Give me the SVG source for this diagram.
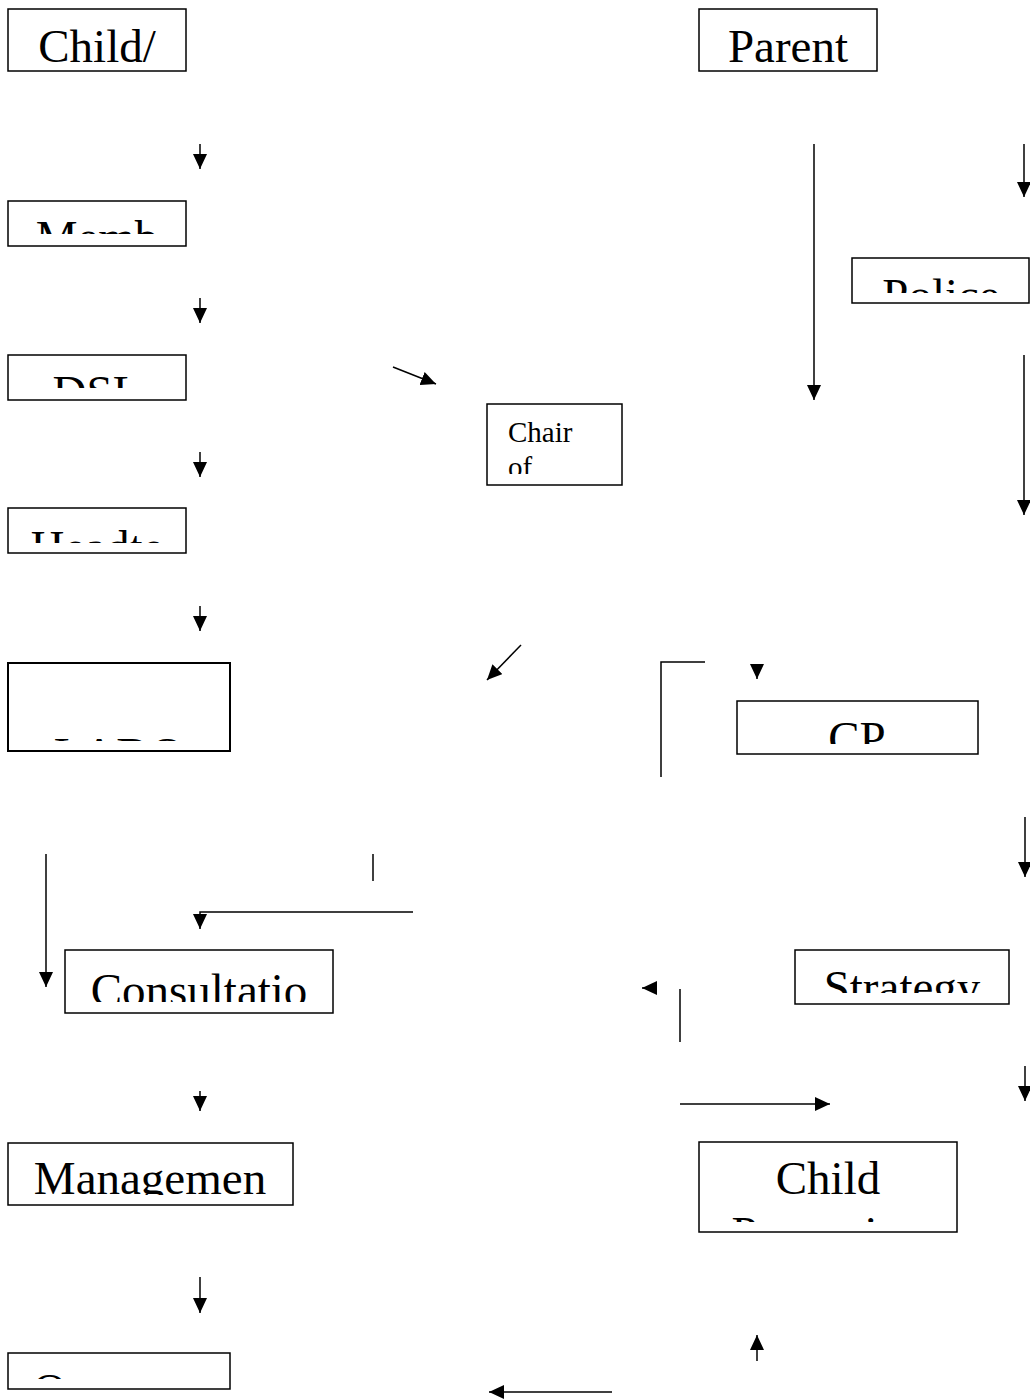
<svg xmlns="http://www.w3.org/2000/svg" width="1030" height="1400" viewBox="0 0 1030 1400">
<style>
.box{fill:#fff;stroke:#000;stroke-width:1.5}
.t{font-family:"Liberation Serif","Times New Roman",serif;font-size:47px;fill:#000;text-anchor:middle}
.ts{font-family:"Liberation Serif","Times New Roman",serif;font-size:29px;fill:#000}
.c{fill:none;stroke:#000;stroke-width:1.5}
.a{marker-end:url(#ah)}
</style>
<defs>
<marker id="ah" viewBox="0 0 15 14" refX="15" refY="7" markerWidth="15" markerHeight="14" markerUnits="userSpaceOnUse" orient="auto">
<path d="M0,0 L15,7 L0,14 Z" fill="#000"/>
</marker>
<clipPath id="k1"><rect x="8" y="9" width="178" height="53"/></clipPath>
<clipPath id="k2"><rect x="699" y="9" width="178" height="53"/></clipPath>
<clipPath id="k3"><rect x="8" y="201" width="178" height="33"/></clipPath>
<clipPath id="k4"><rect x="852" y="258" width="178" height="35"/></clipPath>
<clipPath id="k5"><rect x="8" y="355" width="178" height="33"/></clipPath>
<clipPath id="k6"><rect x="8" y="508" width="178" height="35"/></clipPath>
<clipPath id="k7"><rect x="487" y="404" width="135" height="70"/></clipPath>
<clipPath id="k8"><rect x="8" y="663" width="222" height="78"/></clipPath>
<clipPath id="k9"><rect x="737" y="701" width="241" height="43"/></clipPath>
<clipPath id="k10"><rect x="795" y="950" width="214" height="43"/></clipPath>
<clipPath id="k11"><rect x="65" y="950" width="268" height="52"/></clipPath>
<clipPath id="k12"><rect x="699" y="1142" width="258" height="80"/></clipPath>
<clipPath id="k13"><rect x="8" y="1143" width="285" height="52"/></clipPath>
<clipPath id="k14"><rect x="8" y="1353" width="222" height="26"/></clipPath>
</defs>

<g id="connectors">
<path class="c a" d="M200,144 V169"/>
<path class="c a" d="M200,298 V323"/>
<path class="c a" d="M200,452 V477"/>
<path class="c a" d="M200,606 V631"/>
<path class="c a" d="M814,144 V400"/>
<path class="c a" d="M1024,144 V197"/>
<path class="c a" d="M1024,355 V515"/>
<path class="c a" d="M393,367 L436,384"/>
<path class="c a" d="M521,645 L487,680"/>
<path class="c" d="M705,662 H661 V777"/>
<path class="c a" d="M757,665 V679"/>
<path class="c a" d="M1025,817 V877"/>
<path class="c a" d="M46,854 V987"/>
<path class="c" d="M373,854 V881"/>
<path class="c a" d="M413,912 H200 V929"/>
<path class="c a" d="M656,988 H642"/>
<path class="c" d="M680,989 V1042"/>
<path class="c a" d="M1025,1066 V1101"/>
<path class="c a" d="M680,1104 H830"/>
<path class="c a" d="M200,1091 V1111"/>
<path class="c a" d="M200,1277 V1313"/>
<path class="c a" d="M757,1361 V1335"/>
<path class="c a" d="M612,1392 H489"/>
</g>

<g id="child-parent-start">
<rect class="box" x="8" y="9" width="178" height="62"/>
<text class="t" x="97" y="62" clip-path="url(#k1)">Child/</text>
</g>
<g id="parent">
<rect class="box" x="699" y="9" width="178" height="62"/>
<text class="t" x="788" y="62" clip-path="url(#k2)">Parent</text>
</g>
<g id="member">
<rect class="box" x="8" y="201" width="178" height="45"/>
<text class="t" x="97" y="253" clip-path="url(#k3)">Memb</text>
</g>
<g id="police">
<rect class="box" x="852" y="258" width="177" height="45"/>
<text class="t" x="941" y="311" clip-path="url(#k4)">Police</text>
</g>
<g id="dsl">
<rect class="box" x="8" y="355" width="178" height="45"/>
<text class="t" x="97" y="408" clip-path="url(#k5)">DSL</text>
</g>
<g id="chair">
<rect class="box" x="487" y="404" width="135" height="81"/>
<text class="ts" x="508" y="442" clip-path="url(#k7)">Chair</text>
<text class="ts" x="508" y="477" clip-path="url(#k7)">of</text>
</g>
<g id="headteacher">
<rect class="box" x="8" y="508" width="178" height="45"/>
<text class="t" x="97" y="563" clip-path="url(#k6)">Headte</text>
</g>
<g id="lado">
<rect class="box" x="8" y="663" width="222" height="88" style="stroke-width:2"/>
<text class="t" x="119" y="770" clip-path="url(#k8)">LADO</text>
</g>
<g id="cp">
<rect class="box" x="737" y="701" width="241" height="53"/>
<text class="t" x="857" y="754" clip-path="url(#k9)">CP</text>
</g>
<g id="strategy">
<rect class="box" x="795" y="950" width="214" height="54"/>
<text class="t" x="902" y="1003" clip-path="url(#k10)">Strategy</text>
</g>
<g id="consultation">
<rect class="box" x="65" y="950" width="268" height="63"/>
<text class="t" x="199" y="1006" clip-path="url(#k11)">Consultatio</text>
</g>
<g id="child-protection">
<rect class="box" x="699" y="1142" width="258" height="90"/>
<text class="t" x="828" y="1194" clip-path="url(#k12)">Child</text>
<text class="t" x="828" y="1249" clip-path="url(#k12)">Protection</text>
</g>
<g id="management">
<rect class="box" x="8" y="1143" width="285" height="62"/>
<text class="t" x="150" y="1194" clip-path="url(#k13)">Managemen</text>
</g>
<g id="outcome">
<rect class="box" x="8" y="1353" width="222" height="36"/>
<text class="t" x="119" y="1406" clip-path="url(#k14)">Outcome</text>
</g>
</svg>
